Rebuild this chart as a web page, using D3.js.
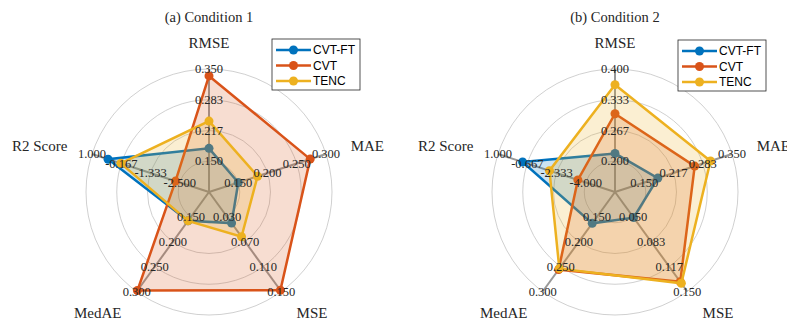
<!DOCTYPE html>
<html><head><meta charset="utf-8">
<script src="https://cdn.jsdelivr.net/npm/d3@7"></script>
<style>html,body{margin:0;padding:0;background:#fff;}svg{display:block;}</style>
</head><body>
<script>
// ---- data ----
const axesNames = ["RMSE", "MAE", "MSE", "MedAE", "R2 Score"];
const seriesNames = ["CVT-FT", "CVT", "TENC"];
const seriesColors = ["#0072BD", "#D95319", "#EDB120"];

const titles = ["(a) Condition 1", "(b) Condition 2"];

// axis limits [min,max] per axis
const limits1 = [[0.150, 0.350], [0.150, 0.300], [0.030, 0.150], [0.150, 0.300], [-2.500, 1.000]];
const limits2 = [[0.200, 0.400], [0.150, 0.350], [0.050, 0.150], [0.150, 0.300], [-4.000, 1.000]];

const ticks1 = [["0.150","0.217","0.283","0.350"],["0.150","0.200","0.250","0.300"],["0.030","0.070","0.110","0.150"],["0.150","0.200","0.250","0.300"],["-2.500","-1.333","-0.167","1.000"]];
const ticks2 = [["0.200","0.267","0.333","0.400"],["0.150","0.217","0.283","0.350"],["0.050","0.083","0.117","0.150"],["0.150","0.200","0.250","0.300"],["-4.000","-2.333","-0.667","1.000"]];

// values: [RMSE, MAE, MSE, MedAE, R2]
const cond1_cvtft = [0.178, 0.150, 0.040, 0.158, 0.36];
const cond1_cvt   = [0.335, 0.273, 0.148, 0.298, -2.33];
const cond1_tenc  = [0.237, 0.183, 0.062, 0.158, -0.15];

const cond2_cvtft = [0.217, 0.181, 0.051, 0.163, -0.40];
const cond2_cvt   = [0.303, 0.265, 0.137, 0.256, -3.55];
const cond2_tenc  = [0.366, 0.301, 0.139, 0.254, -1.93];

// ---- drawing ----
const W = 787, H = 322, R = 123;
const svg = d3.select("body").append("svg").attr("width", W).attr("height", H);

const charts = [
  {cx: 209, cy: 192, title: titles[0], limits: limits1, ticks: ticks1, data: [cond1_cvtft, cond1_cvt, cond1_tenc], legend: [272, 39]},
  {cx: 615, cy: 192, title: titles[1], limits: limits2, ticks: ticks2, data: [cond2_cvtft, cond2_cvt, cond2_tenc], legend: [678, 40]}
];

const serif = "'Liberation Serif','Times New Roman',serif";
const sans = "'Liberation Sans',Arial,Helvetica,sans-serif";

charts.forEach(ch => {
  const g = svg.append("g").attr("transform", `translate(${ch.cx},${ch.cy})`);
  const n = axesNames.length;
  const ang = i => Math.PI / 2 - i * 2 * Math.PI / n;
  const scales = ch.limits.map(([mn, mx]) => d3.scaleLinear().domain([mn - (mx - mn) / 3, mx]).range([0, R]));
  const pt = (i, v) => { const r = scales[i](v); return [r * Math.cos(ang(i)), -r * Math.sin(ang(i))]; };

  // grid circles
  const ringR = [1, 2, 3, 4].map(k => R * k / 4);
  g.selectAll("circle.grid").data(ringR).join("circle")
    .attr("r", d => d).attr("fill", "none").attr("stroke", "#c4c4c4").attr("stroke-width", 0.8);
  // spokes
  axesNames.forEach((a, i) => {
    g.append("line").attr("x1", 0).attr("y1", 0)
      .attr("x2", R * Math.cos(ang(i))).attr("y2", -R * Math.sin(ang(i)))
      .attr("stroke", "#999").attr("stroke-width", 2);
  });

  // series
  ch.data.forEach((vals, s) => {
    const pts = vals.map((v, i) => pt(i, v));
    const sg = g.append("g");
    sg.append("path").attr("d", d3.line()(pts) + "Z")
      .attr("fill", seriesColors[s]).attr("fill-opacity", 0.2)
      .attr("stroke", seriesColors[s]).attr("stroke-width", 2.5).attr("stroke-linejoin", "miter");
    sg.selectAll("circle").data(pts).join("circle")
      .attr("cx", d => d[0]).attr("cy", d => d[1]).attr("r", 4.5).attr("fill", seriesColors[s]);
  });

  // tick labels
  axesNames.forEach((a, i) => {
    ch.ticks[i].forEach((t, k) => {
      const r = ringR[k];
      g.append("text").attr("x", r * Math.cos(ang(i))).attr("y", -r * Math.sin(ang(i)))
        .attr("text-anchor", "middle").attr("dominant-baseline", "central")
        .attr("font-family", serif).attr("font-size", 12.5).attr("fill", "#262626").text(t);
    });
  });

  // axis labels
  const LR = 149;
  axesNames.forEach((a, i) => {
    const c = Math.cos(ang(i)), sn = Math.sin(ang(i));
    const anchor = c > 0.1 ? "start" : (c < -0.1 ? "end" : "middle");
    g.append("text").attr("x", LR * c).attr("y", -LR * sn)
      .attr("text-anchor", anchor).attr("dominant-baseline", "central")
      .attr("font-family", serif).attr("font-size", 15).attr("fill", "#262626").text(a);
  });

  // title
  svg.append("text").attr("x", ch.cx).attr("y", 17)
    .attr("text-anchor", "middle").attr("dominant-baseline", "central")
    .attr("font-family", serif).attr("font-size", 14.5).attr("fill", "#262626").text(ch.title);

  // legend
  const [lx, ly] = ch.legend;
  const lg = svg.append("g").attr("transform", `translate(${lx},${ly})`);
  lg.append("rect").attr("x", 0).attr("y", 0).attr("width", 88).attr("height", 51)
    .attr("fill", "#fff").attr("stroke", "#262626").attr("stroke-width", 0.8);
  seriesNames.forEach((nm, s) => {
    const y = 11 + s * 15.5;
    lg.append("line").attr("x1", 4).attr("x2", 39).attr("y1", y).attr("y2", y)
      .attr("stroke", seriesColors[s]).attr("stroke-width", 2.5);
    lg.append("circle").attr("cx", 21.5).attr("cy", y).attr("r", 4.5).attr("fill", seriesColors[s]);
    lg.append("text").attr("x", 41).attr("y", y).attr("dominant-baseline", "central")
      .attr("font-family", sans).attr("font-size", 12).attr("fill", "#000").text(nm);
  });
});
</script>
</body></html>
